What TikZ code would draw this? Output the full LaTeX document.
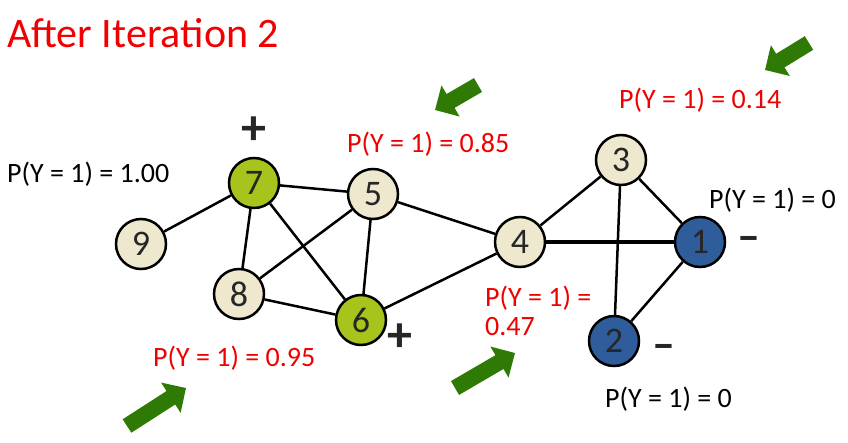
\documentclass[tikz,border=0pt]{standalone}
\usepackage{fontspec}
\setmainfont{Carlito}
\usetikzlibrary{arrows.meta}

\definecolor{seedgreen}{RGB}{166,196,28}
\definecolor{plainbeige}{RGB}{238,232,206}
\definecolor{seedblue}{RGB}{47,93,156}
\definecolor{pointgreen}{RGB}{46,122,4}
\definecolor{probred}{RGB}{240,0,0}

\begin{document}
\begin{tikzpicture}[
  x=1pt, y=-1pt,
  vertex/.style={circle, draw=black, line width=2.5pt, minimum size=50pt,
                 inner sep=0pt, text=black!85,
                 font=\fontsize{36}{36}\selectfont},
  labelled/.style={vertex, fill=seedgreen},
  unlabelled/.style={vertex, fill=plainbeige},
  negative/.style={vertex, fill=seedblue},
  link/.style={line width=2.5pt, black},
  prob/.style={anchor=base west, inner sep=0pt, text=probred,
               font=\fontsize{28}{28}\selectfont},
  probblack/.style={prob, text=black},
  sign/.style={inner sep=0pt, text=black!85,
               font=\bfseries\fontsize{50}{50}\selectfont},
  dashsign/.style={sign, font=\bfseries\fontsize{46}{46}\selectfont},
  pointer/.style={pointgreen, line width=16pt,
                  -{Triangle[width=35pt, length=18pt]}},
]
  \useasboundingbox (0,0) rectangle (848,442);

  \node[anchor=base west, inner sep=0pt, text=probred,
        font=\fontsize{42}{42}\selectfont] (title) at (7,47) {After Iteration 2};

  % graph
  \node[unlabelled] (n9) at (141,244) {9};
  \node[labelled]   (n7) at (254,183) {7};
  \node[unlabelled] (n5) at (373,194) {5};
  \node[unlabelled] (n8) at (239,294) {8};
  \node[labelled]   (n6) at (361,320) {6};
  \node[unlabelled] (n4) at (520,242) {4};
  \node[unlabelled] (n3) at (621,160) {3};
  \node[negative]   (n1) at (700,242) {1};
  \node[negative]   (n2) at (614,341) {2};

  \foreach \a/\b in {n9/n7, n7/n5, n7/n8, n7/n6, n8/n5, n8/n6, n5/n6,
                     n5/n4, n6/n4, n4/n3, n3/n1, n3/n2, n1/n2}
    \draw[link] (\a) -- (\b);
  \draw[link, line width=4pt] (n4) -- (n1);

  \node[sign] (plus7) at (254,131) {+};
  \node[sign] (plus6) at (400,338) {+};
  \node[dashsign] (minus1) at (749,244) {--};
  \node[dashsign] (minus2) at (664,352) {--};

  % probabilities
  \node[probblack] (p9) at (7,182) {P(Y = 1) = 1.00};
  \node[prob] (p5) at (347,152) {P(Y = 1) = 0.85};
  \node[prob] (p3) at (619,108) {P(Y = 1) = 0.14};
  \node[probblack] (p1) at (709,208) {P(Y = 1) = 0};
  \node[prob] (p4a) at (485,306) {P(Y = 1) =};
  \node[prob] (p4b) at (485,335) {0.47};
  \node[prob] (p8) at (153,366) {P(Y = 1) = 0.95};
  \node[probblack] (p2) at (605,407) {P(Y = 1) = 0};

  % pointers
  \coordinate (a5t) at (478,85);  \coordinate (a5h) at (435,110);
  \coordinate (a3t) at (809,43);  \coordinate (a3h) at (765,70);
  \coordinate (a8t) at (127,426); \coordinate (a8h) at (186,388);
  \coordinate (a4t) at (455,388); \coordinate (a4h) at (515,353);
  \draw[pointer] (a5t) -- (a5h);
  \draw[pointer] (a3t) -- (a3h);
  \draw[pointer] (a8t) -- (a8h);
  \draw[pointer] (a4t) -- (a4h);
\end{tikzpicture}
\end{document}
